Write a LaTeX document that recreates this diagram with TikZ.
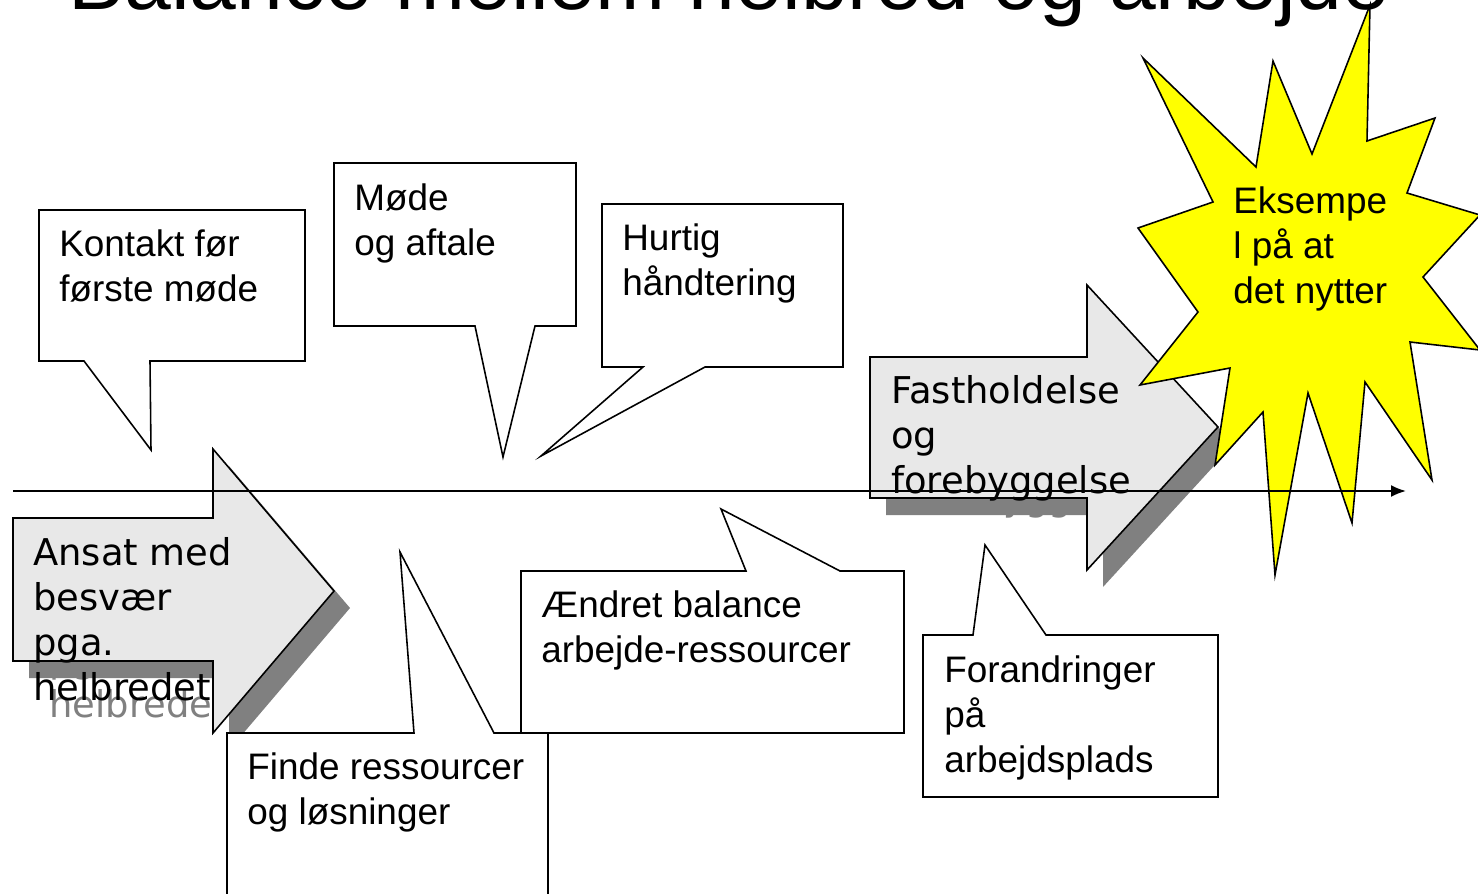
\documentclass[tikz,border=0pt]{standalone}
\usepackage{fontspec}
\setmainfont{Liberation Sans}
\newfontfamily\arrowfont{DejaVu Sans}
\usetikzlibrary{arrows.meta}

\definecolor{arrowfill}{HTML}{E8E8E8}
\definecolor{shadowgray}{HTML}{808080}
\definecolor{staryellow}{HTML}{FFFF00}

\tikzset{
	callout/.style={draw=black, fill=white, line width=0.9pt, line join=miter},
	calltext/.style={anchor=base west, align=left, inner sep=0pt, font=\fontsize{21}{25.6}\selectfont},
	bigarrow/.style={draw=black, fill=arrowfill, line width=0.9pt},
	arrowshadow/.style={fill=shadowgray, shift={(16,17)}},
	arrowtext/.style={anchor=base west, align=left, inner sep=0pt, font=\arrowfont\fontsize{21}{25.6}\selectfont},
	burst/.style={draw=black, fill=staryellow, line width=0.9pt},
	timeline/.style={line width=1.1pt, -{Latex[length=3mm, width=2.4mm]}},
}

\begin{document}
\begin{tikzpicture}[x=0.02cm, y=-0.02cm]

		\useasboundingbox (0,0) rectangle (1478,893);
		\clip (0,0) rectangle (1478,893);

		\node[anchor=base west, inner sep=0pt, font=\fontsize{47.8}{57}\selectfont] (title) at (68,9) {Balance mellem helbred og arbejde};

		% first arrow (text anchored at its last line)
		\fill[arrowshadow] (13,518) -- (213,518) -- (213,449) -- (334,591) -- (213,733) -- (213,661) -- (13,661) -- cycle;
		\node[arrowtext, text=shadowgray] (ansatshadow) at (49,717) {Ansat med\\besvær\\pga.\\helbredet};
		\draw[bigarrow] (13,518) -- (213,518) -- (213,449) -- (334,591) -- (213,733) -- (213,661) -- (13,661) -- cycle;
		\node[arrowtext] (ansat) at (33,700) {Ansat med\\besvær\\pga.\\helbredet};

		% second arrow
		\fill[arrowshadow] (870,357) -- (1087,357) -- (1087,285) -- (1218,427) -- (1087,570) -- (1087,498) -- (870,498) -- cycle;
		\node[arrowtext, text=shadowgray] (fastshadow) at (907,510) {Fastholdelse\\og\\forebyggelse};
		\draw[bigarrow] (870,357) -- (1087,357) -- (1087,285) -- (1218,427) -- (1087,570) -- (1087,498) -- (870,498) -- cycle;
		\node[arrowtext] (fast) at (891,493) {Fastholdelse\\og\\forebyggelse};

		% callouts above the line
		\draw[callout] (39,210) -- (305,210) -- (305,361) -- (150,361) -- (151,450) -- (84,361) -- (39,361) -- cycle;
		\node[calltext] (kontakt) at (59,301) {Kontakt før\\første møde};

		\draw[callout] (334,163) -- (576,163) -- (576,326) -- (535,326) -- (503,457) -- (475,326) -- (334,326) -- cycle;
		\node[calltext] (moede) at (354,255) {Møde\\og aftale};

		\draw[callout] (602,204) -- (843,204) -- (843,367) -- (705,367) -- (541,456) -- (643,367) -- (602,367) -- cycle;
		\node[calltext] (hurtig) at (622,295) {Hurtig\\håndtering};

		% callouts below the line
		\draw[callout] (227,733) -- (414,733) -- (400,552) -- (494,733) -- (548,733) -- (548,905) -- (227,905) -- cycle;
		\node[calltext] (finde) at (247,824) {Finde ressourcer\\og løsninger};

		\draw[callout] (521,571) -- (746,571) -- (721,509) -- (840,571) -- (904,571) -- (904,733) -- (521,733) -- cycle;
		\node[calltext] (aendret) at (541,662) {Ændret balance\\arbejde-ressourcer};

		\draw[callout] (923,635) -- (973,635) -- (985,545) -- (1046,635) -- (1218,635) -- (1218,797) -- (923,797) -- cycle;
		\node[calltext] (forandr) at (944,772) {Forandringer\\på\\arbejdsplads};

		% star
		\draw[burst] (1143,58) -- (1256,167) -- (1273,61) -- (1312,154) -- (1370,5) -- (1367,141) -- (1435,118)
			-- (1407,193) -- (1480,215) -- (1423,277) -- (1480,350) -- (1410,342) -- (1432,480) -- (1365,382)
			-- (1352,523) -- (1308,393) -- (1275,575) -- (1263,412) -- (1215,465) -- (1230,368) -- (1140,385)
			-- (1198,312) -- (1138,228) -- (1213,202) -- cycle;
		\node[calltext] (eksempel) at (1233,303) {Eksempe\\l på at\\det nytter};

		% time line
		\coordinate (tstart) at (13,491);
		\coordinate (tend) at (1406,491);
		\draw[timeline] (tstart) -- (tend);

	\end{tikzpicture}
\end{document}
